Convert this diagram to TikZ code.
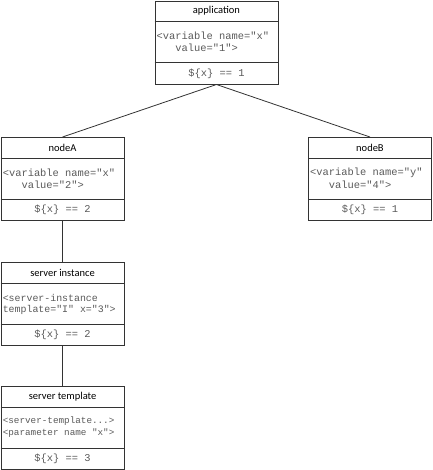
\documentclass[tikz,border=0pt]{standalone}
\usepackage{fontspec}
\newfontfamily\hdrfont{Carlito}
\newfontfamily\codefont{Liberation Mono}
\definecolor{edge}{HTML}{333333}
\definecolor{code}{HTML}{5a5a5a}
\tikzset{
  box/.style={draw=edge, line width=0.9pt, minimum width=123pt, minimum height=83pt, anchor=north west, inner sep=0pt},
  sepline/.style={draw=edge, line width=0.9pt},
  title/.style={font=\hdrfont\fontsize{10.5}{12}\selectfont, text=black, inner sep=0pt, anchor=center},
  codeline/.style={text=code, inner sep=0pt, anchor=west},
  expr/.style={font=\codefont\fontsize{10.4}{12}\selectfont, text=code, inner sep=0pt, anchor=center},
  link/.style={draw=edge, line width=0.8pt}
}
\newcommand{\umlbox}[8]{%
  % #1 name, #2 left, #3 top, #4 title, #5 line1, #6 line2, #7 expr, #8 code size
  \node[box] (#1) at (#2,#3) {};
  \path[sepline] ([yshift=-21pt]#1.north west) -- ([yshift=-21pt]#1.north east);
  \path[sepline] ([yshift=-62pt]#1.north west) -- ([yshift=-62pt]#1.north east);
  \node[title] (#1-t) at ([yshift=-10.5pt]#1.north) {#4};
  \node[codeline, font=\codefont\fontsize{#8}{12}\selectfont] (#1-a) at ([xshift=2pt,yshift=-35.5pt]#1.north west) {#5};
  \node[codeline, font=\codefont\fontsize{#8}{12}\selectfont] (#1-b) at ([xshift=2pt,yshift=-47.5pt]#1.north west) {#6};
  \node[expr] (#1-e) at ([yshift=-73pt]#1.north) {#7};
}
\begin{document}
\begin{tikzpicture}[x=1pt,y=-1pt]
\useasboundingbox (0,0) rectangle (432,470);
\umlbox{app}{154.5}{0.6}{application}{<variable name="x"}{\ \ \ value="1">}{\$\{x\} == 1}{10.4}
\umlbox{nA}{0.6}{137}{nodeA}{<variable name="x"}{\ \ \ value="2">}{\$\{x\} == 2}{10.4}
\umlbox{nB}{308}{137}{nodeB}{<variable name="y"}{\ \ \ value="4">}{\$\{x\} == 1}{10.4}
\umlbox{sI}{0.6}{262}{server instance}{<server-instance}{template="I" x="3">}{\$\{x\} == 2}{9.9}
\umlbox{sT}{0.6}{386}{server template}{<server-template...>}{<parameter name "x">}{\$\{x\} == 3}{9.3}
\draw[link] (app.south) -- (nA.north);
\draw[link] (app.south) -- (nB.north);
\draw[link] (nA.south) -- (sI.north);
\draw[link] (sI.south) -- (sT.north);
\end{tikzpicture}
\end{document}
